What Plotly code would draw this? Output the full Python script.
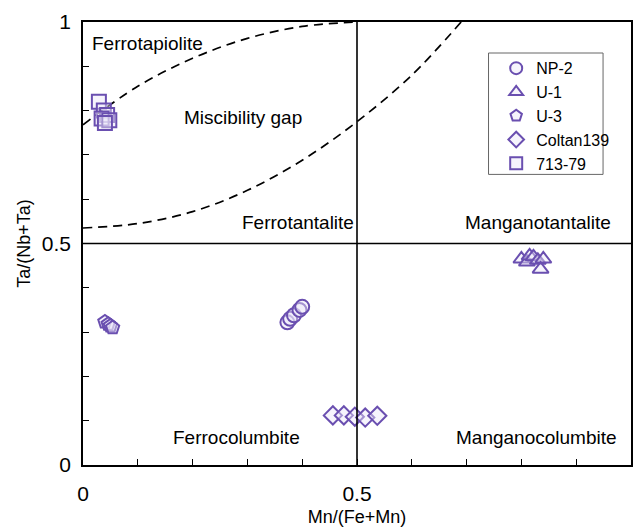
import plotly.graph_objects as go

# ---- data ----
np2_x = [0.373, 0.378, 0.385, 0.395, 0.40]
np2_y = [0.322, 0.330, 0.338, 0.350, 0.357]

u1_x = [0.800, 0.810, 0.815, 0.822, 0.830, 0.840, 0.835]
u1_y = [0.465, 0.458, 0.472, 0.470, 0.462, 0.465, 0.442]

u3_x = [0.040, 0.046, 0.050, 0.054]
u3_y = [0.323, 0.318, 0.314, 0.310]

coltan_x = [0.456, 0.476, 0.496, 0.515, 0.537]
coltan_y = [0.112, 0.112, 0.109, 0.107, 0.111]

s71379_x = [0.029, 0.038, 0.044, 0.034, 0.048, 0.040]
s71379_y = [0.820, 0.800, 0.790, 0.782, 0.778, 0.772]

# boundary curves
upper_x = [0.0, 0.1, 0.2, 0.3, 0.4, 0.5]
upper_y = [0.768, 0.855, 0.918, 0.963, 0.99, 1.0]
lower_x = [0.0, 0.1, 0.2, 0.3, 0.4, 0.5, 0.6, 0.69]
lower_y = [0.535, 0.545, 0.572, 0.620, 0.688, 0.775, 0.880, 1.0]

field_labels = ["Ferrotapiolite", "Miscibility gap", "Ferrotantalite",
                "Manganotantalite", "Ferrocolumbite", "Manganocolumbite"]
field_x = [0.013, 0.292, 0.392, 0.83, 0.28, 0.828]
field_y = [0.952, 0.785, 0.547, 0.547, 0.061, 0.061]
field_anchor = ["left", "center", "center", "center", "center", "center"]

series = [
    ("NP-2", np2_x, np2_y, "circle"),
    ("U-1", u1_x, u1_y, "triangle-up"),
    ("U-3", u3_x, u3_y, "pentagon"),
    ("Coltan139", coltan_x, coltan_y, "diamond"),
    ("713-79", s71379_x, s71379_y, "square"),
]

PURPLE = "#6a4fb0"
FILL = "rgba(235,230,248,0.45)"
FONT = "Liberation Sans"

fig = go.Figure()

for xs, ys in [(upper_x, upper_y), (lower_x, lower_y)]:
    fig.add_trace(go.Scatter(x=xs, y=ys, mode="lines", showlegend=False,
                             line=dict(color="black", width=1.7, dash="9px,6px", shape="spline"),
                             hoverinfo="skip"))

for name, xs, ys, sym in series:
    fig.add_trace(go.Scatter(
        x=xs, y=ys, mode="markers", name=name,
        marker=dict(symbol=sym, size=14, color=FILL,
                    line=dict(color=PURPLE, width=2)),
    ))

fig.add_shape(type="line", x0=0.5, x1=0.5, y0=0, y1=1, xref="x", yref="y",
              line=dict(color="black", width=1.6))
fig.add_shape(type="line", x0=0, x1=1, y0=0.5, y1=0.5, xref="x", yref="y",
              line=dict(color="black", width=1.6))
# legend frame
fig.add_shape(type="rect", xref="paper", yref="paper",
              x0=0.74, x1=0.949, y0=0.656, y1=0.93,
              line=dict(color="#666666", width=1), fillcolor="white", layer="below")

for t, x, y, a in zip(field_labels, field_x, field_y, field_anchor):
    fig.add_annotation(x=x, y=y, text=t, showarrow=False, xanchor=a,
                       font=dict(size=19, color="black", family=FONT))

axis_common = dict(
    range=[0, 1], showgrid=False, zeroline=False, showline=True,
    linecolor="black", linewidth=1.6, mirror=True,
    ticks="inside", ticklen=6, tickwidth=1.3, tickcolor="black",
    tickvals=[0, 0.5, 1], ticktext=["0", "0.5", "1"],
    tickfont=dict(size=21, color="black", family=FONT),
    minor=dict(ticks="inside", ticklen=6, tickwidth=1.3, tickcolor="black", dtick=0.1),
)

fig.update_xaxes(**axis_common,
                 title=dict(text="Mn/(Fe+Mn)", font=dict(size=18, color="black", family=FONT), standoff=6),
                 ticklabelstandoff=9)
fig.update_yaxes(**axis_common,
                 title=dict(text="Ta/(Nb+Ta)", font=dict(size=18, color="black", family=FONT), standoff=6),
                 ticklabelstandoff=6)

fig.update_layout(
    width=634, height=531,
    margin=dict(l=83, r=1, t=22, b=66),
    plot_bgcolor="white", paper_bgcolor="white",
    font=dict(family=FONT, color="black"),
    legend=dict(x=0.754, y=0.934, xanchor="left", yanchor="top",
                borderwidth=0, bgcolor="rgba(0,0,0,0)",
                font=dict(size=16, color="black", family=FONT),
                tracegroupgap=0, itemsizing="constant"),
)

fig.write_html("out.html")
